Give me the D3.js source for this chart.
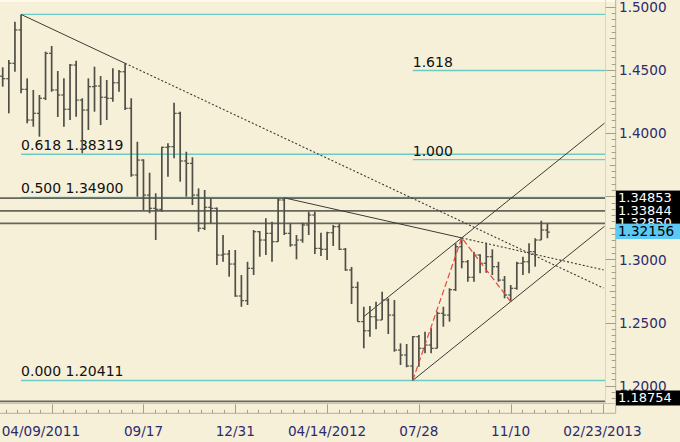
<!DOCTYPE html>
<html><head><meta charset="utf-8">
<script src="https://cdn.jsdelivr.net/npm/d3@7"></script>
<style>body{margin:0;background:#f7f0d9;}svg{display:block;}</style>
</head><body>
<svg id="c" width="680" height="442"></svg>
<script>
// ---------- DATA ----------
const startDate = "2011-04-09";   // first weekly bar
const endDate = "2013-02-23";     // last dated tick on the axis
const opens = [1.4450,1.4430,1.4552,1.4816,1.4346,1.4103,1.4156,1.4275,1.4631,1.4341,
1.4301,1.4188,1.4538,1.4261,1.4182,1.4367,1.4372,1.4283,1.4275,1.4398,
1.4485,1.4196,1.3668,1.3786,1.3509,1.3404,1.3396,1.3887,1.3892,1.4156,
1.3779,1.3760,1.3509,1.3246,1.3412,1.3404,1.3034,1.3042,1.2963,1.2710,
1.2673,1.2929,1.3219,1.3153,1.3206,1.3140,1.3470,1.3206,1.3114,1.3153,
1.3272,1.3351,1.3087,1.3080,1.3211,1.3259,1.3080,1.2916,1.2779,1.2507,
1.2435,1.2546,1.2520,1.2678,1.2559,1.2282,1.2243,1.2156,1.2388,1.2296,
1.2322,1.2296,1.2573,1.2559,1.2760,1.3100,1.2981,1.2858,1.3034,1.2969,
1.3021,1.2942,1.2836,1.2718,1.2771,1.2969,1.2981,1.3061,1.3153,1.3232];
const highs = [1.4520,1.4578,1.4881,1.4939,1.4433,1.4341,1.4301,1.4644,1.4689,1.4491,
1.4433,1.4546,1.4573,1.4275,1.4433,1.4525,1.4451,1.4420,1.4512,1.4499,
1.4552,1.4275,1.3931,1.3792,1.3686,1.3523,1.3892,1.3919,1.4240,1.4169,
1.3852,1.3808,1.3562,1.3549,1.3483,1.3410,1.3193,1.3074,1.3074,1.2876,
1.2981,1.3232,1.3224,1.3325,1.3298,1.3483,1.3487,1.3285,1.3193,1.3290,
1.3377,1.3377,1.3211,1.3219,1.3272,1.3285,1.3090,1.2940,1.2823,1.2625,
1.2631,1.2665,1.2744,1.2692,1.2678,1.2335,1.2330,1.2393,1.2401,1.2427,
1.2454,1.2586,1.2625,1.2771,1.3127,1.3170,1.2995,1.3061,1.3040,1.3132,
1.3080,1.2981,1.2868,1.2797,1.2981,1.3021,1.3127,1.3167,1.3306,1.3285];
const lows = [1.4367,1.4156,1.4485,1.4314,1.4077,1.4050,1.3971,1.4261,1.4327,1.4127,
1.4050,1.4103,1.4129,1.3840,1.4024,1.4169,1.4063,1.4103,1.4248,1.4327,
1.4182,1.3654,1.3496,1.3391,1.3365,1.3153,1.3377,1.3654,1.3800,1.3615,
1.3496,1.3430,1.3219,1.3232,1.3285,1.2955,1.2982,1.2863,1.2704,1.2625,
1.2639,1.2876,1.3021,1.3034,1.2981,1.3140,1.3193,1.3100,1.3000,1.3132,
1.3193,1.3042,1.3026,1.2995,1.3106,1.3074,1.2910,1.2647,1.2507,1.2296,
1.2388,1.2446,1.2520,1.2409,1.2269,1.2164,1.2146,1.2042,1.2150,1.2256,
1.2256,1.2296,1.2467,1.2507,1.2750,1.2929,1.2823,1.2823,1.2890,1.2894,
1.2876,1.2823,1.2692,1.2665,1.2760,1.2876,1.2890,1.2942,1.3153,1.3167];
const closes = [1.4430,1.4552,1.4816,1.4346,1.4103,1.4156,1.4275,1.4631,1.4341,1.4301,
1.4188,1.4538,1.4261,1.4182,1.4367,1.4372,1.4283,1.4275,1.4398,1.4485,
1.4196,1.3668,1.3786,1.3509,1.3404,1.3396,1.3887,1.3892,1.4156,1.3779,
1.3760,1.3509,1.3246,1.3412,1.3404,1.3034,1.3042,1.2963,1.2710,1.2673,
1.2929,1.3219,1.3153,1.3206,1.3140,1.3470,1.3206,1.3114,1.3153,1.3272,
1.3351,1.3087,1.3080,1.3211,1.3259,1.3080,1.2916,1.2779,1.2507,1.2435,
1.2546,1.2520,1.2678,1.2559,1.2282,1.2243,1.2156,1.2388,1.2296,1.2322,
1.2296,1.2573,1.2559,1.2760,1.3100,1.2981,1.2858,1.3034,1.2969,1.3021,
1.2942,1.2836,1.2718,1.2771,1.2969,1.2981,1.3061,1.3153,1.3232,1.32156];

const priceTicks = [1.20,1.25,1.30,1.35,1.40,1.45,1.50];
const priceTickLabels = ["1.2000","1.2500","1.3000","","1.4000","1.4500","1.5000"];
const dateTicks = ["2011-09-17","2011-12-31","2012-04-14","2012-07-28","2012-11-10","2013-02-23"];
const dateTickLabels = ["09/17","12/31","04/14/2012","07/28","11/10","02/23/2013"];
const firstDateLabel = "04/09/2011";

// Fibonacci retracement (anchored at the May 2011 high bar) and projection (anchored at the July 2012 low bar)
const retraceBar = 3;
const retraceLevels = [1.4939, 1.38319, 1.34900, 1.20411];
const retraceLabels = ["", "0.618 1.38319", "0.500 1.34900", "0.000 1.20411"];
const projBar = 67;
const projLevels = [1.4495, 1.3790];
const projLabels = ["1.618", "1.000"];

// horizontal level lines with boxed labels
const levelLines = [1.34853, 1.33844, 1.3285, 1.18754];
const levelLabels = ["1.34853", "1.33844", "1.32850", "1.18754"];
const lastPriceLabel = "1.32156";

// trend lines: [barIndex, price]
const trend1 = [[3, 1.4939], [20, 1.4552]];
const trend2 = [[46, 1.3487], [75, 1.3170]];
const channelLow = [[67, 1.2042], [83, 1.2665]];
const channelHigh = [75, 1.3170];
const channelHighStartBar = 59;
const abcd = [[67, 1.2042], [75, 1.3170], [83, 1.2665]];

// ---------- LAYOUT ----------
const W = 680, H = 442;
const plotR = 605, plotB = 403;
const axisR = 615.7, axisB = 413.3;
const bg = "#f7f0d9", cyan = "#6ccbc4", barC = "#4f4f47", lvlC = "#66665c", navy = "#2c2c6c";
const font = "DejaVu Sans, Verdana, sans-serif";

const parse = d3.utcParse("%Y-%m-%d");
const t0 = parse(startDate);
const dates = closes.map((_, i) => d3.utcDay.offset(t0, 7 * i));

const x = d3.scaleUtc().domain([t0, parse(endDate)]).range([2.7, 602.5]);
const y = d3.scaleLinear().domain([1.2, 1.5]).range([385.7, 6.7]);

const svg = d3.select("#c");
svg.append("rect").attr("width", W).attr("height", H).attr("fill", bg);

svg.append("defs").append("clipPath").attr("id", "pc")
  .append("rect").attr("x", 0).attr("y", 0).attr("width", plotR).attr("height", plotB);

const g = svg.append("g").attr("clip-path", "url(#pc)");

// top light border
svg.append("line").attr("x1", 0).attr("x2", axisR).attr("y1", 1).attr("y2", 1)
  .attr("stroke", "#fffcf0").attr("stroke-width", 1.5);

// fib retracement lines
retraceLevels.forEach((v, i) => {
  const x0 = x(dates[retraceBar]);
  g.append("line").attr("x1", x0).attr("x2", plotR).attr("y1", y(v)).attr("y2", y(v))
    .attr("stroke", cyan).attr("stroke-width", 1.3);
  if (retraceLabels[i]) g.append("text").attr("x", x0).attr("y", y(v) - 4.2)
    .attr("font-family", font).attr("font-size", 14).attr("fill", "#111").text(retraceLabels[i]);
});
projLevels.forEach((v, i) => {
  const x0 = x(dates[projBar]);
  g.append("line").attr("x1", x0).attr("x2", plotR).attr("y1", y(v)).attr("y2", y(v))
    .attr("stroke", cyan).attr("stroke-width", 1.3);
  g.append("text").attr("x", x0).attr("y", y(v) - 3.5)
    .attr("font-family", font).attr("font-size", 14).attr("fill", "#111").text(projLabels[i]);
});

// horizontal level lines
levelLines.forEach(v => {
  g.append("line").attr("x1", 0).attr("x2", plotR).attr("y1", y(v)).attr("y2", y(v))
    .attr("stroke", lvlC).attr("stroke-width", 1.7);
});

// helper: extend a line through two pixel points to x = xe
function extendTo(p1, p2, xe) {
  const s = (p2[1] - p1[1]) / (p2[0] - p1[0]);
  return [xe, p2[1] + s * (xe - p2[0])];
}
const P = ([b, v]) => [x(dates[b]), y(v)];
const xEnd = 603.5;

// trend lines: solid section + dotted extension
[trend1, trend2].forEach(tl => {
  const a = P(tl[0]), b = P(tl[1]);
  const e = extendTo(a, b, xEnd);
  g.append("line").attr("x1", a[0]).attr("y1", a[1]).attr("x2", b[0]).attr("y2", b[1])
    .attr("stroke", "#3c3c36").attr("stroke-width", 1);
  g.append("line").attr("x1", b[0]).attr("y1", b[1]).attr("x2", e[0]).attr("y2", e[1])
    .attr("stroke", "#3a3a34").attr("stroke-width", 1.1).attr("stroke-dasharray", "2,2");
});

// channel
{
  const a = P(channelLow[0]), b = P(channelLow[1]);
  const s = (b[1] - a[1]) / (b[0] - a[0]);
  const e = [xEnd + 1, a[1] + s * (xEnd + 1 - a[0])];
  g.append("line").attr("x1", a[0]).attr("y1", a[1]).attr("x2", e[0]).attr("y2", e[1])
    .attr("stroke", "#3c3c36").attr("stroke-width", 1);
  const h = P(channelHigh);
  const xs = x(dates[channelHighStartBar]);
  const ys = h[1] + s * (xs - h[0]);
  const ye = h[1] + s * (xEnd + 1 - h[0]);
  g.append("line").attr("x1", xs).attr("y1", ys).attr("x2", xEnd + 1).attr("y2", ye)
    .attr("stroke", "#3c3c36").attr("stroke-width", 1);
}

// price bars
const bars = g.append("g").attr("stroke", barC).attr("stroke-width", 1.7);
dates.forEach((d, i) => {
  const cx = x(d);
  bars.append("line").attr("x1", cx).attr("x2", cx).attr("y1", y(highs[i])).attr("y2", y(lows[i]));
  bars.append("line").attr("x1", cx - 2.6).attr("x2", cx).attr("y1", y(opens[i])).attr("y2", y(opens[i])).attr("stroke-width", 1.2);
  bars.append("line").attr("x1", cx).attr("x2", cx + 2.6).attr("y1", y(closes[i])).attr("y2", y(closes[i])).attr("stroke-width", 1.2);
});

// red ABCD dashed
g.append("path").attr("d", d3.line()(abcd.map(P))).attr("fill", "none")
  .attr("stroke", "#e8453c").attr("stroke-width", 1.2).attr("stroke-dasharray", "6,3");

// ---------- AXES ----------
const axC = "#b8b094";
svg.append("line").attr("x1", plotR + 0.5).attr("x2", plotR + 0.5).attr("y1", 0).attr("y2", plotB).attr("stroke", "#ddd5b8");
svg.append("line").attr("x1", 0).attr("x2", axisR).attr("y1", plotB + 0.5).attr("y2", plotB + 0.5).attr("stroke", "#c9c1a4");
svg.append("line").attr("x1", axisR).attr("x2", axisR).attr("y1", 0).attr("y2", axisB).attr("stroke", axC);
svg.append("line").attr("x1", 0).attr("x2", axisR).attr("y1", axisB).attr("y2", axisB).attr("stroke", axC);

// y ticks
const yt = svg.append("g").attr("stroke", "#a59f86").attr("stroke-width", 1);
d3.range(1.185, 1.5051, 0.005).forEach(v => {
  const yy = Math.round(y(v)) + 0.5;
  if (yy < 1 || yy > plotB) return;
  const k = Math.round(v * 1000) % 50;
  const len = k === 0 ? 10 : (k === 25 ? 6 : 4);
  yt.append("line").attr("x1", axisR - len).attr("x2", axisR).attr("y1", yy).attr("y2", yy);
});
priceTicks.forEach((v, i) => {
  if (!priceTickLabels[i]) return;
  svg.append("text").attr("x", 619).attr("y", y(v) + 1.2).attr("dominant-baseline", "middle")
    .attr("font-family", font).attr("font-size", 13.6).attr("fill", navy).text(priceTickLabels[i]);
});

// x ticks: major every 15 weeks, 8 minor steps between
const majorStep = 105, minorStep = majorStep / 8;
const tickRef = parse(dateTicks[0]);
const xt = svg.append("g").attr("stroke", "#a59f86").attr("stroke-width", 1);
d3.range(-20, 60).forEach(k => {
  const d = new Date(tickRef.getTime() + k * minorStep * 86400000);
  const xx = Math.round(x(d)) + 0.5;
  if (xx < 0 || xx > axisR - 2) return;
  const major = ((k % 8) + 8) % 8 === 0;
  xt.append("line").attr("x1", xx).attr("x2", xx).attr("y1", axisB - (major ? 9 : 3.5)).attr("y2", axisB);
});
dateTicks.forEach((s, i) => {
  svg.append("text").attr("x", x(parse(s))).attr("y", 436).attr("text-anchor", "middle")
    .attr("font-family", font).attr("font-size", 13.6).attr("fill", navy).text(dateTickLabels[i]);
});
svg.append("text").attr("x", x(t0) - 1).attr("y", 436).attr("text-anchor", "start")
  .attr("font-family", font).attr("font-size", 13.6).attr("fill", navy).text(firstDateLabel);

// level boxes
levelLines.forEach((v, i) => {
  const cy = Math.min(y(v), 398);
  svg.append("rect").attr("x", 616).attr("y", cy - 7.5).attr("width", 64).attr("height", 15).attr("fill", "#000");
  svg.append("text").attr("x", 618).attr("y", cy + 0.5).attr("dominant-baseline", "middle")
    .attr("font-family", font).attr("font-size", 13).attr("fill", "#fff").text(levelLabels[i]);
});
{
  const cy = y(closes[closes.length - 1]) - 1;
  svg.append("rect").attr("x", 616).attr("y", cy - 7.5).attr("width", 64).attr("height", 15.5).attr("fill", "#5cc8f4");
  svg.append("text").attr("x", 618).attr("y", cy + 0.5).attr("dominant-baseline", "middle")
    .attr("font-family", font).attr("font-size", 13.6).attr("fill", "#000").text(lastPriceLabel);
}
</script>
</body></html>
